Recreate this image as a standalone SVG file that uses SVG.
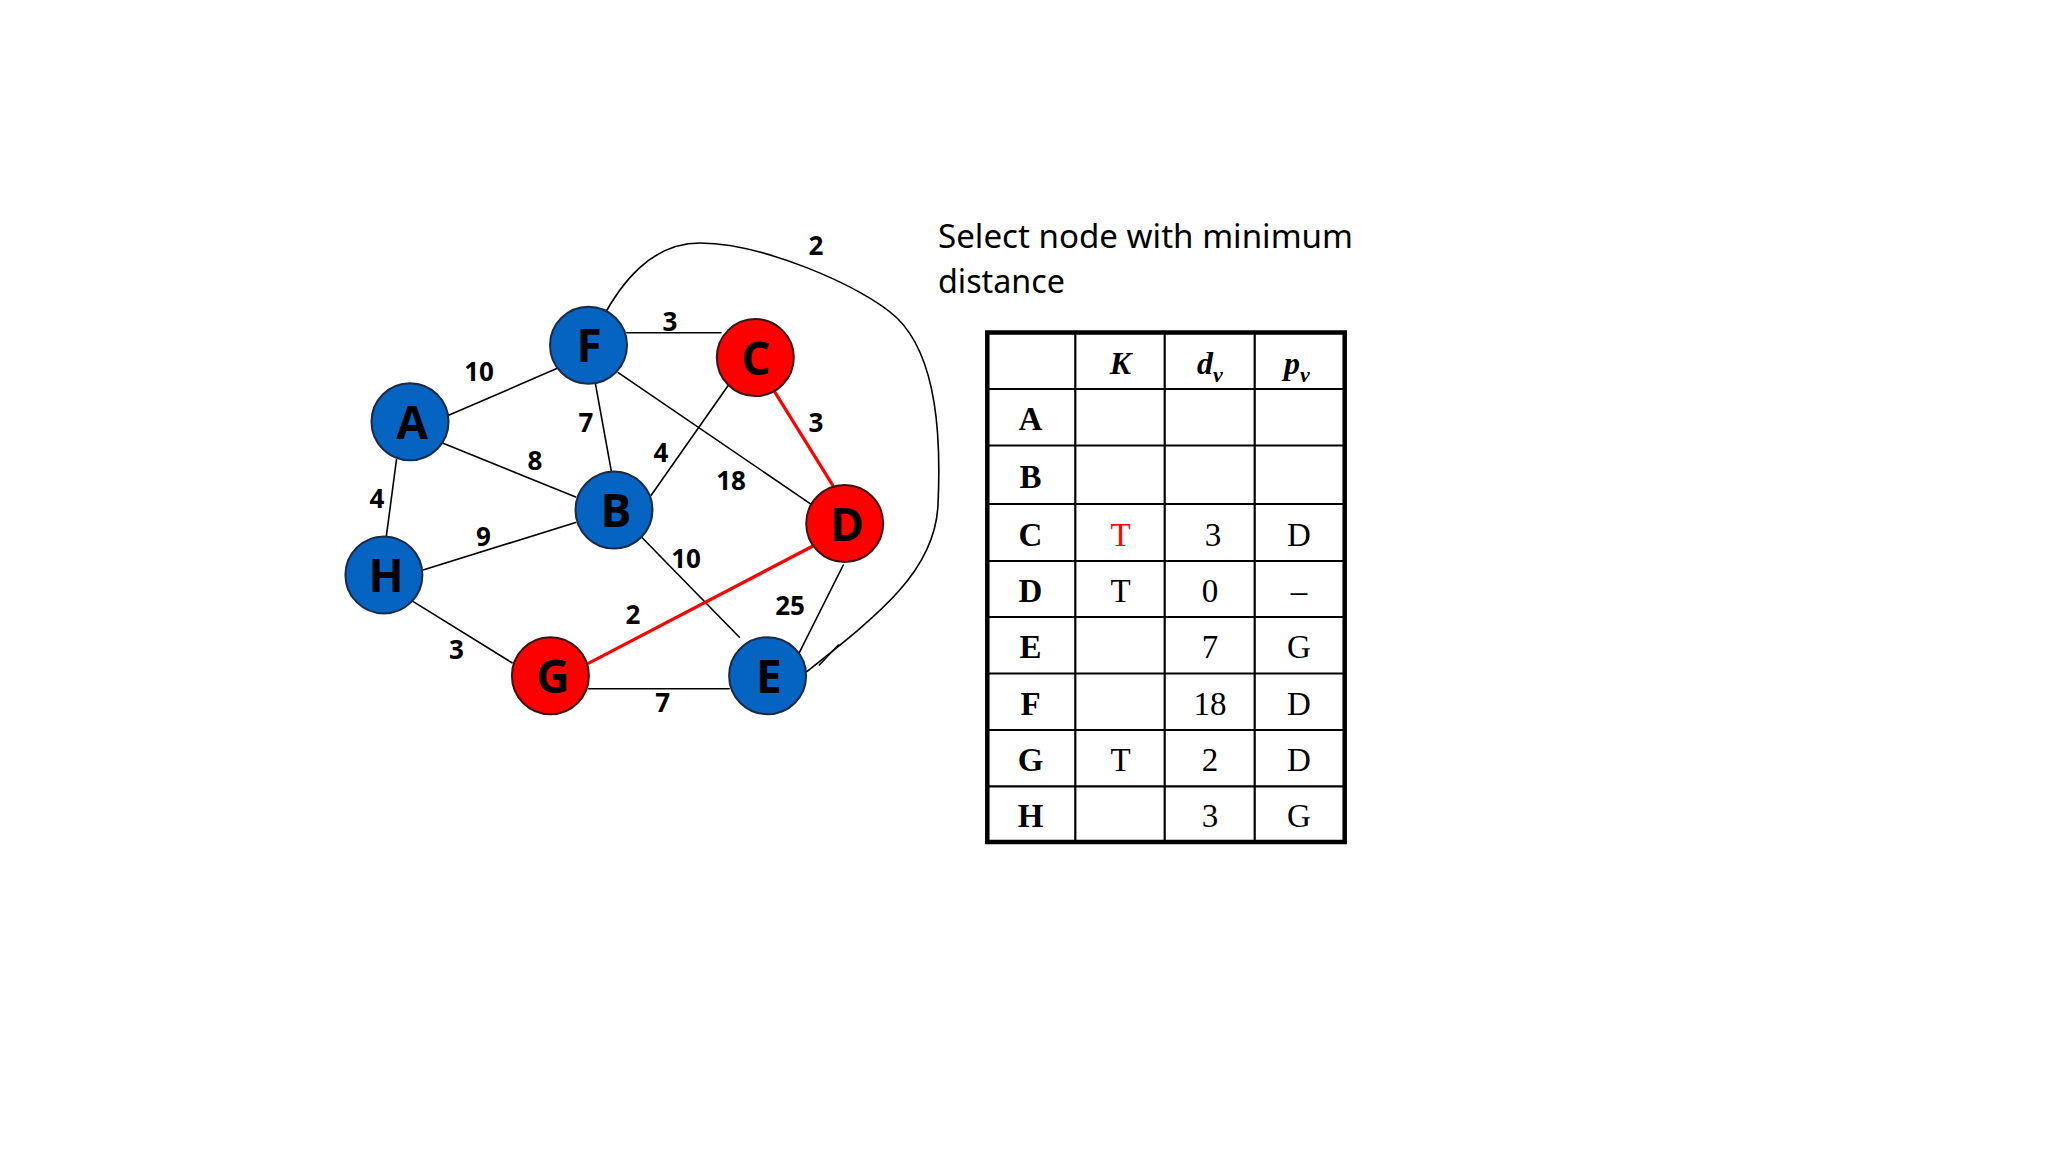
<svg xmlns="http://www.w3.org/2000/svg" width="2048" height="1152" viewBox="0 0 2048 1152">
<style>
.bg{fill:#ffffff}
.edge{stroke:#000000;stroke-width:1.6;fill:none;stroke-linecap:round}
.hot{stroke:#ff0000;stroke-width:3.2;fill:none;stroke-linecap:round}
.nb{fill:#0563c1;stroke:#1c2a44;stroke-width:2}
.nr{fill:#ff0000;stroke:#3a1414;stroke-width:2}
.nl{font-family:"Open Sans","Noto Sans","Liberation Sans",sans-serif;font-weight:700;font-size:46px;fill:#000;text-anchor:middle}
.el{font-family:"Open Sans","Noto Sans","Liberation Sans",sans-serif;font-weight:700;font-size:26px;fill:#000;text-anchor:middle}
.title{font-family:"Noto Sans","Open Sans","Liberation Sans",sans-serif;font-size:32px;fill:#000}
.grid{stroke:#000;stroke-width:2.2;fill:none}
.outer{stroke:#000;stroke-width:4.5;fill:#fff}
.th{font-family:"Liberation Serif","Times New Roman",serif;font-weight:700;font-style:italic;font-size:32px;fill:#000;text-anchor:middle}
.rl{font-family:"Liberation Serif","Times New Roman",serif;font-weight:700;font-size:33px;fill:#000;text-anchor:middle}
.cv{font-family:"Liberation Serif","Times New Roman",serif;font-size:33px;fill:#000;text-anchor:middle}
.red{fill:#ff0000}
</style>
<rect class="bg" x="0" y="0" width="2048" height="1152"/>

<g id="connectors">
  <line class="edge" x1="626.7" y1="332.7" x2="721" y2="332.7"/>
  <line class="edge" x1="446.3" y1="416.3" x2="557.3" y2="368.3"/>
  <line class="edge" x1="595.3" y1="383.2" x2="611.6" y2="472.7"/>
  <line class="edge" x1="618.2" y1="372.6" x2="811.6" y2="504.6"/>
  <line class="edge" x1="443.1" y1="443.2" x2="575.7" y2="497"/>
  <line class="edge" x1="728" y1="385.8" x2="651.2" y2="495.3"/>
  <line class="hot" x1="774.1" y1="390.8" x2="832.8" y2="485.3"/>
  <line class="edge" x1="396.5" y1="459.5" x2="386.3" y2="536.7"/>
  <line class="edge" x1="423" y1="570" x2="575.7" y2="522.5"/>
  <line class="edge" x1="642.2" y1="537.7" x2="739.4" y2="637.2"/>
  <line class="hot" x1="814.9" y1="545" x2="588.8" y2="663.1"/>
  <line class="edge" x1="843.3" y1="565" x2="799.3" y2="652.7"/>
  <line class="edge" x1="412.9" y1="601.4" x2="512" y2="662.8"/>
  <line class="edge" x1="588.8" y1="688.7" x2="729.2" y2="688.7"/>
  <path class="edge" d="M601.7,319.3 C620,285 650,243 700,243 C760,243 862,285 897,318 C938,358 941,440 938,505 C935,570 882,612 806.7,671.7"/>
  <line class="edge" x1="819.3" y1="665" x2="838.3" y2="645"/>
</g>

<g id="edge-labels">
  <text class="el" x="816" y="254.5">2</text>
  <text class="el" x="670" y="331">3</text>
  <text class="el" x="479" y="380.5">10</text>
  <text class="el" x="586" y="431.5">7</text>
  <text class="el" x="816" y="431.5">3</text>
  <text class="el" x="535" y="470">8</text>
  <text class="el" x="661" y="461.5">4</text>
  <text class="el" x="731" y="489.5">18</text>
  <text class="el" x="377" y="508">4</text>
  <text class="el" x="483.5" y="546">9</text>
  <text class="el" x="686" y="567.5">10</text>
  <text class="el" x="790" y="615">25</text>
  <text class="el" x="633" y="624">2</text>
  <text class="el" x="456.5" y="659">3</text>
  <text class="el" x="662.7" y="712">7</text>
</g>

<g id="node-F"><circle class="nb" cx="588.5" cy="345.2" r="38.5"/><text class="nl" x="589" y="362">F</text></g>
<g id="node-C"><circle class="nr" cx="755.3" cy="357.6" r="38.5"/><text class="nl" x="756" y="374.5">C</text></g>
<g id="node-A"><circle class="nb" cx="410" cy="421.7" r="38.5"/><text class="nl" x="412" y="439">A</text></g>
<g id="node-B"><circle class="nb" cx="614" cy="510" r="38.5"/><text class="nl" x="616" y="527">B</text></g>
<g id="node-D"><circle class="nr" cx="844.7" cy="523.5" r="38.5"/><text class="nl" x="847" y="540.5">D</text></g>
<g id="node-H"><circle class="nb" cx="383.9" cy="574.9" r="38.5"/><text class="nl" x="386" y="592">H</text></g>
<g id="node-G"><circle class="nr" cx="550.4" cy="675.7" r="38.5"/><text class="nl" x="553" y="692.5">G</text></g>
<g id="node-E"><circle class="nb" cx="767.6" cy="675.7" r="38.5"/><text class="nl" x="769" y="692.5">E</text></g>

<g id="title">
  <text class="title" x="938" y="248.3" textLength="415" lengthAdjust="spacingAndGlyphs">Select node with minimum</text>
  <text class="title" x="938" y="293.3" textLength="127" lengthAdjust="spacingAndGlyphs">distance</text>
</g>

<g id="table">
  <rect class="outer" x="987.3" y="332.5" width="357.4" height="509.5"/>
  <line class="grid" x1="1075.3" y1="332.5" x2="1075.3" y2="842"/>
  <line class="grid" x1="1164.7" y1="332.5" x2="1164.7" y2="842"/>
  <line class="grid" x1="1254.7" y1="332.5" x2="1254.7" y2="842"/>
  <line class="grid" x1="987.3" y1="389" x2="1344.7" y2="389"/>
  <line class="grid" x1="987.3" y1="445.5" x2="1344.7" y2="445.5"/>
  <line class="grid" x1="987.3" y1="504" x2="1344.7" y2="504"/>
  <line class="grid" x1="987.3" y1="561" x2="1344.7" y2="561"/>
  <line class="grid" x1="987.3" y1="617" x2="1344.7" y2="617"/>
  <line class="grid" x1="987.3" y1="673.5" x2="1344.7" y2="673.5"/>
  <line class="grid" x1="987.3" y1="730" x2="1344.7" y2="730"/>
  <line class="grid" x1="987.3" y1="786.3" x2="1344.7" y2="786.3"/>

  <text class="th" x="1120.5" y="373.5">K</text>
  <text class="th" x="1210" y="374">d<tspan font-size="22" dy="8">v</tspan></text>
  <text class="th" x="1297" y="374">p<tspan font-size="22" dy="8">v</tspan></text>

  <text class="rl" x="1030.5" y="430">A</text>
  <text class="rl" x="1030.5" y="487.5">B</text>
  <text class="rl" x="1030.5" y="545.5">C</text>
  <text class="rl" x="1030.5" y="602">D</text>
  <text class="rl" x="1030.5" y="658">E</text>
  <text class="rl" x="1030.5" y="714.5">F</text>
  <text class="rl" x="1030.5" y="771">G</text>
  <text class="rl" x="1030.5" y="827">H</text>

  <text class="cv red" x="1120.5" y="545.5">T</text>
  <text class="cv" x="1213" y="545.5">3</text>
  <text class="cv" x="1299" y="545.5">D</text>

  <text class="cv" x="1120.5" y="602">T</text>
  <text class="cv" x="1210" y="602">0</text>
  <text class="cv" x="1299" y="602">–</text>

  <text class="cv" x="1210" y="658">7</text>
  <text class="cv" x="1299" y="658">G</text>

  <text class="cv" x="1210" y="714.5">18</text>
  <text class="cv" x="1299" y="714.5">D</text>

  <text class="cv" x="1120.5" y="771">T</text>
  <text class="cv" x="1210" y="771">2</text>
  <text class="cv" x="1299" y="771">D</text>

  <text class="cv" x="1210" y="827">3</text>
  <text class="cv" x="1299" y="827">G</text>
</g>
</svg>
